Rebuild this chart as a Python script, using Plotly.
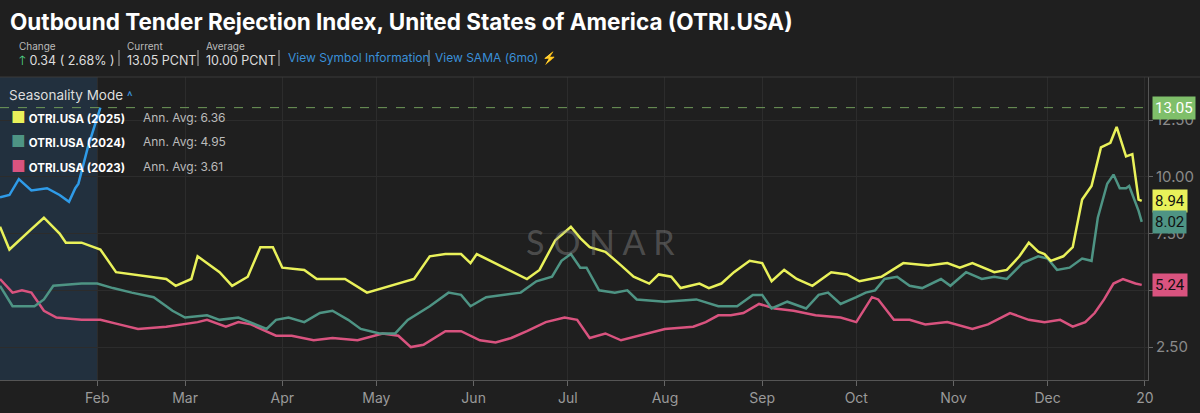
import datetime
import plotly.graph_objects as go

base = datetime.date(2025, 1, 1)

# seasonality mode: every year is drawn on the same Jan..Dec axis (day of year)
days_2025 = [0, 3, 10, 14, 19, 21, 26, 32, 37, 42, 53, 56, 61, 63, 66, 70, 74, 79, 83, 87, 90, 97, 101, 110, 117, 127,
             132, 137, 142, 147, 150, 152, 162, 168, 172, 177, 182, 185, 188, 193, 198, 202, 207, 210, 214, 217, 223,
             226, 230, 234, 239, 243, 246, 250, 254, 259, 265, 270, 274, 281, 288, 296, 302, 306, 310, 317, 321, 325,
             328, 331, 333, 335, 339, 342, 345, 348, 351, 354, 356, 359, 361, 363, 364]
vals_2025 = [7.8, 6.8, 7.7, 8.2, 7.5, 7.1, 7.1, 6.8, 5.8, 5.7, 5.5, 5.2, 5.5, 6.5, 6.2, 5.8, 5.2, 5.6, 6.9, 6.9, 6.0, 5.9,
             5.5, 5.5, 4.9, 5.3, 5.5, 6.5, 6.6, 6.6, 6.2, 6.6, 5.9, 5.5, 5.9, 7.2, 7.8, 7.3, 6.9, 6.7, 6.1, 5.6, 5.3,
             5.7, 5.6, 5.1, 5.3, 5.1, 5.3, 5.8, 6.3, 6.2, 5.4, 5.9, 5.5, 5.2, 5.8, 5.7, 5.4, 5.6, 6.2, 6.1, 6.2, 6.0,
             6.2, 5.8, 5.9, 6.5, 7.1, 6.7, 6.6, 6.3, 6.5, 6.9, 9.0, 9.6, 11.3, 11.5, 12.2, 10.9, 11.0, 9.0, 8.94]

days_2024 = [0, 4, 11, 14, 17, 26, 31, 36, 42, 49, 55, 59, 66, 70, 76, 85, 88, 92, 97, 102, 106, 111, 115, 121, 126, 130,
             137, 143, 147, 150, 155, 166, 171, 176, 179, 182, 185, 187, 191, 196, 200, 203, 212, 222, 229, 235, 240,
             243, 246, 251, 257, 261, 264, 268, 273, 276, 279, 282, 286, 290, 294, 300, 303, 308, 313, 317, 321, 326,
             331, 334, 337, 341, 345, 348, 350, 353, 355, 357, 359, 360, 363, 364]
vals_2024 = [5.2, 4.3, 4.3, 4.6, 5.2, 5.3, 5.3, 5.1, 4.9, 4.7, 4.1, 3.8, 3.9, 3.7, 3.8, 3.3, 3.7, 3.8, 3.6, 4.0, 4.1, 3.7,
             3.3, 3.1, 3.1, 3.7, 4.3, 4.9, 4.8, 4.3, 4.7, 4.9, 5.4, 5.6, 6.3, 6.6, 6.0, 6.0, 5.0, 4.9, 5.0, 4.6, 4.5,
             4.6, 4.3, 4.3, 4.8, 4.8, 4.2, 4.5, 4.2, 4.8, 4.9, 4.4, 4.7, 4.9, 5.0, 5.5, 5.6, 5.2, 5.1, 5.5, 5.2, 5.8,
             5.5, 5.6, 5.5, 6.2, 6.5, 6.4, 5.9, 6.0, 6.4, 6.3, 8.2, 9.7, 10.1, 9.5, 9.5, 9.6, 8.5, 8.02]

days_2023 = [0, 4, 7, 10, 14, 18, 26, 32, 38, 44, 53, 63, 66, 72, 76, 80, 88, 93, 100, 106, 114, 122, 127, 131, 135, 142,
             147, 153, 158, 163, 168, 174, 180, 184, 188, 193, 198, 206, 212, 221, 225, 229, 233, 237, 242, 247, 253,
             260, 268, 273, 278, 280, 285, 290, 295, 302, 310, 315, 322, 328, 333, 338, 342, 346, 349, 352, 355, 358,
             362, 364]
vals_2023 = [5.5, 4.9, 5.0, 4.9, 4.1, 3.8, 3.7, 3.7, 3.5, 3.3, 3.4, 3.6, 3.7, 3.4, 3.6, 3.5, 3.0, 3.0, 2.8, 2.9, 2.8, 3.1,
             3.0, 2.5, 2.6, 3.2, 3.2, 2.8, 2.7, 2.9, 3.2, 3.6, 3.8, 3.7, 2.9, 3.1, 2.8, 3.1, 3.3, 3.4, 3.6, 3.9, 3.9,
             4.0, 4.4, 4.2, 4.1, 3.9, 3.8, 3.6, 4.7, 4.6, 3.7, 3.7, 3.5, 3.6, 3.3, 3.5, 4.0, 3.7, 3.6, 3.7, 3.4, 3.6,
             4.0, 4.6, 5.3, 5.5, 5.3, 5.24]

days_2026 = [0, 3, 6, 10, 15, 19, 22, 24, 25, 28, 32]
vals_2026 = [9.1, 9.2, 9.9, 9.4, 9.5, 9.2, 8.9, 9.5, 9.7, 11.3, 13.05]

tick_days = [31, 59, 90, 120, 151, 181, 212, 243, 273, 304, 334, 365]
tick_text = ["Feb", "Mar", "Apr", "May", "Jun", "Jul", "Aug", "Sep", "Oct", "Nov", "Dec", "20"]

def to_dates(days):
  return [base + datetime.timedelta(days=d) for d in days]

# helpers to place header texts by pixel (plot area spans y 77..380, x 0..1148)
def py(p):
  return (380 - p) / 303.0
def px(p):
  return p / 1148.0

bg = "#1f1f1f"
font = "Inter"
fig = go.Figure()

# Jan highlight for the current year
fig.add_shape(type="rect", xref="x", yref="paper", x0=base, x1=to_dates([31])[0], y0=0, y1=1,
              fillcolor="rgba(40,80,120,0.35)", line_width=0, layer="below")

series = [(days_2023, vals_2023, "#d9537f", "2023"),
          (days_2024, vals_2024, "#4e9484", "2024"),
          (days_2025, vals_2025, "#e9f15a", "2025"),
          (days_2026, vals_2026, "#2f9be8", "2026")]
for d, v, c, n in series:
  fig.add_trace(go.Scatter(x=to_dates(d), y=v, mode="lines", line=dict(color=c, width=2.5),
                           name=n, showlegend=False))

# current value dashed line
fig.add_shape(type="line", xref="paper", yref="y", x0=0, x1=1, y0=13.05, y1=13.05,
              line=dict(color="#6f9a5a", width=1, dash="dash"))

# value tags on right axis
tags = [(13.05, "13.05", "#7fbf6a", "#ffffff"), (8.94, "8.94", "#e9f15a", "#111111"),
        (8.02, "8.02", "#4e9484", "#111111"), (5.24, "5.24", "#d9537f", "#111111")]
for y, t, c, fc in tags:
  fig.add_annotation(x=px(1152), xref="paper", y=y, yref="y", text=t, showarrow=False, xanchor="left",
                     bgcolor=c, font=dict(color=fc, size=15, family="Roboto"), borderpad=2)

fig.add_annotation(x=px(600), xref="paper", y=7.15, yref="y", text="S O N A R", showarrow=False,
                   font=dict(size=34, color="rgba(150,150,150,0.4)", family="Lato"))

# header
header = [
  (8, 22, "<b>Outbound Tender Rejection Index, United States of America (OTRI.USA)</b>", 22.5, "#ffffff"),
  (17, 46, "Change", 10, "#bbbbbb"),
  (17, 60, "<span style='color:#4fd18b'>🡑</span> 0.34 ( 2.68% )", 12.5, "#dddddd"),
  (125, 46, "Current", 10, "#bbbbbb"),
  (125, 60, "13.05 PCNT", 12.5, "#dddddd"),
  (204, 46, "Average", 10, "#bbbbbb"),
  (204, 60, "10.00 PCNT", 12.5, "#dddddd"),
  (286, 57, "View Symbol Information", 12, "#3a8fd8"),
  (433, 57, "View SAMA (6mo) <span style='color:#e0c020'>⚡</span>", 12, "#3a8fd8"),
  (7, 95, "Seasonality Mode <span style='color:#3a8fd8'>˄</span>", 13.5, "#dddddd"),
]
for x, y, t, s, c in header:
  fig.add_annotation(x=px(x), y=py(y), xref="paper", yref="paper", text=t, showarrow=False, xanchor="left",
                     yanchor="middle", font=dict(size=s, color=c, family=font))
for x in [119, 198, 279, 429]:
  fig.add_shape(type="line", xref="paper", yref="paper", x0=px(x), x1=px(x), y0=py(50), y1=py(66),
                line=dict(color="#aaaaaa", width=1))

legend = [("#e9f15a", "OTRI.USA (2025)", "Ann. Avg: 6.36", 117),
          ("#4e9484", "OTRI.USA (2024)", "Ann. Avg: 4.95", 141),
          ("#d9537f", "OTRI.USA (2023)", "Ann. Avg: 3.61", 166)]
for c, n, a, y in legend:
  fig.add_annotation(x=px(9), y=py(y), xref="paper", yref="paper",
                     text=f"<span style='color:{c};font-size:16px'>■</span> <b>{n}</b>",
                     showarrow=False, xanchor="left", yanchor="middle", font=dict(size=11.5, color="#ffffff", family=font))
  fig.add_annotation(x=px(141), y=py(y), xref="paper", yref="paper", text=a, yanchor="middle",
                     showarrow=False, xanchor="left", font=dict(size=12, color="#bbbbbb", family=font))

fig.update_layout(
  width=1200, height=413, paper_bgcolor=bg, plot_bgcolor=bg,
  margin=dict(l=0, r=52, t=77, b=33), showlegend=False,
  xaxis=dict(range=[base, base + datetime.timedelta(days=366)], tickvals=to_dates(tick_days), ticktext=tick_text,
             showgrid=True, gridcolor="#2c2c2c", ticks="outside", tickcolor="#666666", ticklen=5,
             tickfont=dict(color="#9a9a9a", size=14, family=font), showline=True, linecolor="#555555",
             zeroline=False),
  yaxis=dict(range=[1.05, 14.4], side="right", tickvals=[2.5, 5, 7.5, 10, 12.5],
             ticktext=["2.50", "5.00", "7.50", "10.00", "12.50"], showgrid=True, gridcolor="#2c2c2c",
             tickfont=dict(color="#8a8a8a", size=15, family=font), showline=True, linecolor="#555555",
             ticks="outside", tickcolor="#666666", ticklen=4, zeroline=False),
)
# separator between header and chart
fig.add_shape(type="line", xref="paper", yref="paper", x0=0, x1=1.05, y0=1, y1=1,
              line=dict(color="#3a3a3a", width=1))

fig.write_html("out.html", config={"displayModeBar": False}, post_script="document.body.style.margin='0';")
